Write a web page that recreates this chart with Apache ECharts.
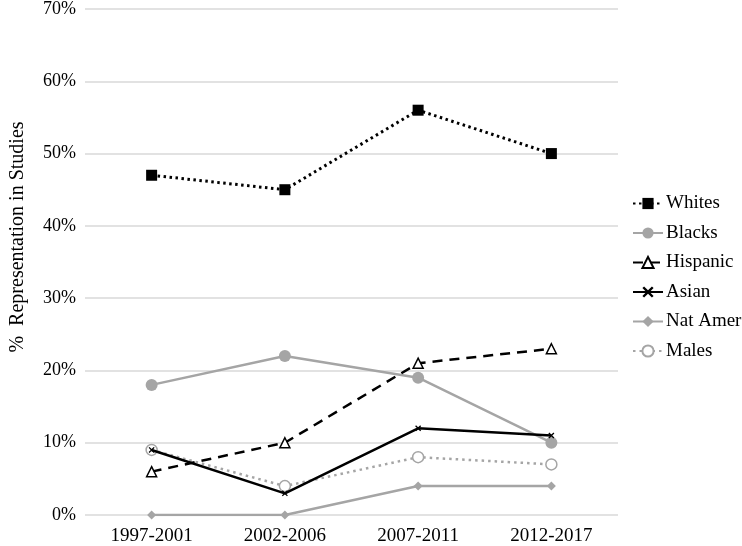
<!DOCTYPE html>
<html><head><meta charset="utf-8">
<script src="https://cdn.jsdelivr.net/npm/echarts@6/dist/echarts.min.js"></script>
<style>html,body{margin:0;padding:0;background:#fff}#c{width:742px;height:546px}</style>
</head><body><div id="c"></div>
<script>
const categories = ['1997-2001','2002-2006','2007-2011','2012-2017'];
const whites = [47, 45, 56, 50];
const blacks = [18, 22, 19, 10];
const hispanic = [6, 10, 21, 23];
const asian = [9, 3, 12, 11];
const natAmer = [0, 0, 4, 4];
const males = [9, 4, 8, 7];
const yTicks = [0,10,20,30,40,50,60,70];

const FONT = 'Liberation Serif';
const X_PATH = 'path://M0,1.5L1.5,0L5,3.5L8.5,0L10,1.5L6.5,5L10,8.5L8.5,10L5,6.5L1.5,10L0,8.5L3.5,5Z';

const chart = echarts.init(document.getElementById('c'), null, {renderer:'canvas'});
function s(name, data, o){ return Object.assign({name, type:'line', data}, o); }
chart.setOption({
  animation:false,
  backgroundColor:'#fff',
  textStyle:{fontFamily:FONT},
  grid:{left:73, right:124, top:8, bottom:28},
  legend:{
    orient:'vertical', left:627, top:189, itemGap:10.5, itemWidth:30, itemHeight:14,
    textStyle:{fontFamily:FONT, fontSize:19, color:'#000', padding:[0,0,0,-2]},
    data:['Whites','Blacks','Hispanic','Asian','Nat Amer','Males']
  },
  xAxis:{type:'category', data:categories, boundaryGap:true,
    axisLine:{show:false}, axisTick:{show:false},
    axisLabel:{fontFamily:FONT, fontSize:19, color:'#000', margin:12}},
  yAxis:{type:'value', min:0, max:70, interval:10,
    name:'%  Representation in Studies', nameLocation:'middle', nameGap:57, nameRotate:90,
    nameTextStyle:{fontFamily:FONT, fontSize:20, color:'#000', padding:[0,0,0,50]},
    axisLabel:{fontFamily:FONT, fontSize:18, color:'#000', margin:9,
      formatter: v => yTicks.includes(v) ? v + '%' : ''},
    splitLine:{lineStyle:{color:'#d9d9d9', width:1.5}}},
  series:[
    s('Whites', whites, {color:'#000', symbol:'rect', symbolSize:11,
      lineStyle:{type:[2.5,3.5], width:3, color:'#000'}, itemStyle:{color:'#000'}, z:6}),
    s('Blacks', blacks, {color:'#a5a5a5', symbol:'circle', symbolSize:12,
      lineStyle:{width:2.5, color:'#a5a5a5'}, itemStyle:{color:'#a5a5a5'}, z:3}),
    s('Hispanic', hispanic, {color:'#000', symbol:'triangle', symbolSize:10,
      lineStyle:{type:[10,7], width:2.5, color:'#000'},
      itemStyle:{color:'#fff', borderColor:'#000', borderWidth:1.5}, z:5}),
    s('Asian', asian, {color:'#000', symbol:X_PATH, symbolSize:6,
      lineStyle:{width:2.5, color:'#000'}, itemStyle:{color:'#000'}, z:5}),
    s('Nat Amer', natAmer, {color:'#a5a5a5', symbol:'diamond', symbolSize:9,
      lineStyle:{width:2.5, color:'#a5a5a5'}, itemStyle:{color:'#a5a5a5'}, z:3}),
    s('Males', males, {color:'#a5a5a5', symbol:'circle', symbolSize:11,
      lineStyle:{type:[2.5,4], width:2.5, color:'#a5a5a5'},
      itemStyle:{color:'#fff', borderColor:'#a5a5a5', borderWidth:1.5}, z:4})
  ]
});
</script></body></html>
